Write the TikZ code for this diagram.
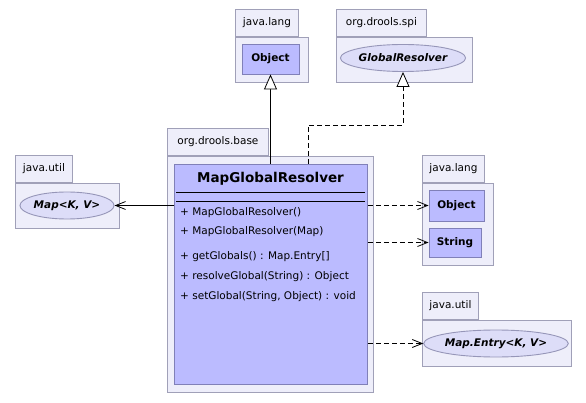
\documentclass[tikz,border=0pt]{standalone}
\usepackage{fontspec}
\setmainfont{DejaVu Sans}
\usetikzlibrary{arrows.meta,shapes.geometric}
\definecolor{pkgfill}{RGB}{238,238,250}
\definecolor{pkgline}{RGB}{160,160,184}
\definecolor{clsfill}{RGB}{187,187,255}
\definecolor{clsline}{RGB}{128,128,184}
\definecolor{iffill}{RGB}{221,221,248}
\definecolor{ifline}{RGB}{150,150,184}

\begin{document}
\begin{tikzpicture}[x=1pt,y=-1pt,
    every node/.style={font=\fontsize{10.5}{12}\selectfont, inner sep=0pt},
    pkgbody/.style={draw=pkgline, fill=pkgfill, line width=0.9pt, anchor=north west},
    pkgtab/.style={pkgbody, minimum height=27pt, anchor=south west},
    cls/.style={draw=clsline, fill=clsfill, line width=0.9pt,
        font=\fontsize{10.5}{12}\selectfont\bfseries},
    iface/.style={ellipse, draw=ifline, fill=iffill, line width=0.9pt, minimum height=27pt,
        font=\fontsize{10.5}{12}\selectfont\bfseries\itshape},
    method/.style={anchor=west},
    uses/.style={line width=0.8pt, dash pattern=on 5pt off 3pt,
        -{Straight Barb[length=10pt,width=8pt,line width=0.8pt]}},
    assoc/.style={line width=0.8pt, -{Straight Barb[length=10pt,width=8pt,line width=0.8pt]}},
    inherit/.style={line width=0.8pt, -{Triangle[open,fill=white,length=15pt,width=13pt,line width=0.8pt]}},
    realize/.style={inherit, dash pattern=on 5pt off 3pt}]

\useasboundingbox (0,0) rectangle (586,403);

% packages
\node[pkgbody, minimum width=73pt, minimum height=45pt] (langTop) at (235,37) {};
\node[pkgtab, minimum width=63pt] (langTopTab) at (langTop.north west) {java.lang};
\node[pkgbody, minimum width=136pt, minimum height=45pt] (spi) at (336,37) {};
\node[pkgtab, minimum width=90pt] (spiTab) at (spi.north west) {org.drools.spi};
\node[pkgbody, minimum width=206pt, minimum height=236pt] (base) at (167,156) {};
\node[pkgtab, minimum width=101pt] (baseTab) at (base.north west) {org.drools.base};
\node[pkgbody, minimum width=104pt, minimum height=45pt] (utilLeft) at (15,183) {};
\node[pkgtab, minimum width=57pt] (utilLeftTab) at (utilLeft.north west) {java.util};
\node[pkgbody, minimum width=71pt, minimum height=82pt] (langRight) at (422,183) {};
\node[pkgtab, minimum width=62pt] (langRightTab) at (langRight.north west) {java.lang};
\node[pkgbody, minimum width=149pt, minimum height=46pt] (utilRight) at (422,320) {};
\node[pkgtab, minimum width=56pt] (utilRightTab) at (utilRight.north west) {java.util};

% classes and interfaces
\node[cls, minimum width=57pt, minimum height=30pt] (objectTop) at (270.5,59) {Object};
\node[iface, minimum width=120pt] (globalResolver) at (403,58) {GlobalResolver};
\node[iface, minimum width=90pt] (map) at (67,205.5) {Map<K, V>};
\node[cls, minimum width=55pt, minimum height=31pt] (object) at (456.5,205.5) {Object};
\node[cls, minimum width=52pt, minimum height=29pt] (string) at (455,242.5) {String};
\node[iface, minimum width=134pt] (mapEntry) at (496,343.5) {Map.Entry<K, V>};

% MapGlobalResolver
\node[cls, minimum width=193pt, minimum height=220pt, anchor=north west] (resolver) at (174,164) {};
\node[font=\fontsize{13.5}{15}\selectfont\bfseries] (title) at (270.5,179) {MapGlobalResolver};
\draw[line width=0.8pt] (176,192) -- (365,192);
\draw[line width=0.8pt] (176,201) -- (365,201);
\foreach \y/\t [count=\i] in {213/{MapGlobalResolver()}, 232/{MapGlobalResolver(Map)},
    257/{getGlobals() : Map.Entry[]}, 277/{resolveGlobal(String) : Object},
    297/{setGlobal(String, Object) : void}}
    \node[method] (m\i) at (180,\y) {+ \t};

% connectors
\coordinate (bend) at (308,125);
\draw[inherit] (resolver.north -| objectTop.south) -- (objectTop.south);
\draw[realize] (resolver.north -| bend) -- (bend) -| (globalResolver.south);
\draw[assoc] (resolver.west |- map.east) -- (map.east);
\draw[uses] (resolver.east |- object.west) -- (object.west);
\draw[uses] (resolver.east |- string.west) -- (string.west);
\draw[uses] (resolver.east |- mapEntry.west) -- (mapEntry.west);

\end{tikzpicture}
\end{document}
